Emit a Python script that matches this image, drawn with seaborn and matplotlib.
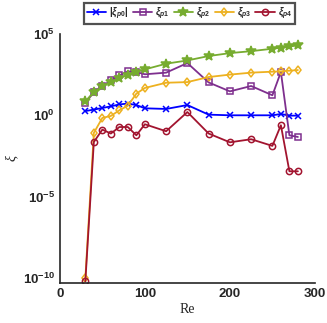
import numpy as np
import pandas as pd
import matplotlib
matplotlib.use("Agg")
import matplotlib.pyplot as plt
import seaborn as sns

# data (log10 of xi)
re_vals = [30, 40, 50, 60, 70, 80, 90, 100, 125, 150, 175, 200, 225, 250, 260, 270, 280]
log_p0 = [0.26, 0.35, 0.45, 0.55, 0.67, 0.72, 0.63, 0.43, 0.39, 0.63, 0.04, 0.0, 0.0, 0.0, 0.08, -0.02, -0.02]
log_p1 = [0.75, 1.43, 1.78, 2.15, 2.45, 2.70, 2.66, 2.52, 2.62, 3.21, 2.02, 1.47, 1.80, 1.23, 2.66, -1.23, -1.33]
log_p2 = [0.86, 1.43, 1.78, 2.04, 2.27, 2.50, 2.68, 2.82, 3.17, 3.37, 3.64, 3.82, 3.94, 4.09, 4.15, 4.23, 4.29]
log_p3 = [-10.0, -1.08, -0.16, -0.04, 0.31, 0.59, 1.33, 1.68, 2.0, 2.04, 2.35, 2.5, 2.62, 2.68, 2.7, 2.74, 2.78]
log_p4 = [-10.2, -1.64, -0.88, -1.12, -0.72, -0.72, -1.23, -0.55, -0.98, 0.2, -1.12, -1.66, -1.47, -1.88, -0.61, -3.44, -3.44]

labels = [r"$|\xi_{p0}|$", r"$\xi_{p1}$", r"$\xi_{p2}$", r"$\xi_{p3}$", r"$\xi_{p4}$"]
colors = ["#0000ff", "#7e2f8e", "#77ac30", "#edb120", "#a2142f"]
markers = ["x", "s", "*", "d", "o"]

sns.set_style("white")
plt.rcParams["font.family"] = ["Liberation Sans", "DejaVu Sans"]
plt.rcParams["mathtext.fontset"] = "custom"
plt.rcParams["mathtext.rm"] = "Liberation Sans:bold"
plt.rcParams["mathtext.it"] = "Liberation Sans:bold:italic"

fig = plt.figure(figsize=(3.27, 3.23), dpi=100)
ax = fig.add_axes([0.183, 0.124, 0.78, 0.771])

series = [log_p0, log_p1, log_p2, log_p3, log_p4]
for lab, col, mk, vals in zip(labels, colors, markers, series):
    df = pd.DataFrame({"Re": re_vals, "xi": 10.0 ** np.array(vals)})
    filled = mk in ("x", "*")
    sns.lineplot(data=df, x="Re", y="xi", ax=ax, color=col, marker=mk,
                 markersize=7 if mk == "*" else 4.5,
                 markerfacecolor=col if filled else "none",
                 markeredgecolor=col, markeredgewidth=1.1,
                 linewidth=1.3, label=lab)

ax.set_yscale("log")
ax.set_xlim(0, 300)
ax.set_ylim(10 ** -10.3, 1e5)
ax.set_xticks([0, 100, 200, 300])
ax.set_yticks([1e-10, 1e-5, 1e0, 1e5])
ax.yaxis.set_minor_locator(matplotlib.ticker.LogLocator(base=10, subs=[1.0], numticks=30))
ax.yaxis.set_minor_formatter(matplotlib.ticker.NullFormatter())
ax.tick_params(axis="both", which="both", direction="in", colors="#262626",
               labelsize=9.5, width=1.0)
ax.tick_params(axis="both", which="major", length=4)
ax.tick_params(axis="y", which="minor", length=3)
for t in ax.get_xticklabels() + ax.get_yticklabels():
    t.set_fontweight("bold")

for s in ["top", "right"]:
    ax.spines[s].set_visible(False)
for s in ["left", "bottom"]:
    ax.spines[s].set_color("#262626")
    ax.spines[s].set_linewidth(1.2)

ax.set_xlabel("Re", family="Liberation Serif", fontsize=10, labelpad=2)
ax.set_ylabel("ξ", family="Liberation Serif", style="italic", fontsize=10,
              rotation=90)
ax.yaxis.set_label_coords(-0.165, 0.5)

leg = ax.legend(loc="upper center", bbox_to_anchor=(0.508, 1.125), ncol=5,
                fontsize=7, frameon=True, fancybox=False, handlelength=2.0,
                handletextpad=0.3, columnspacing=0.45, borderpad=0.25,
                borderaxespad=0)
leg.get_frame().set_edgecolor("#262626")
leg.get_frame().set_linewidth(1.6)

fig.savefig("out.png", dpi=100)
